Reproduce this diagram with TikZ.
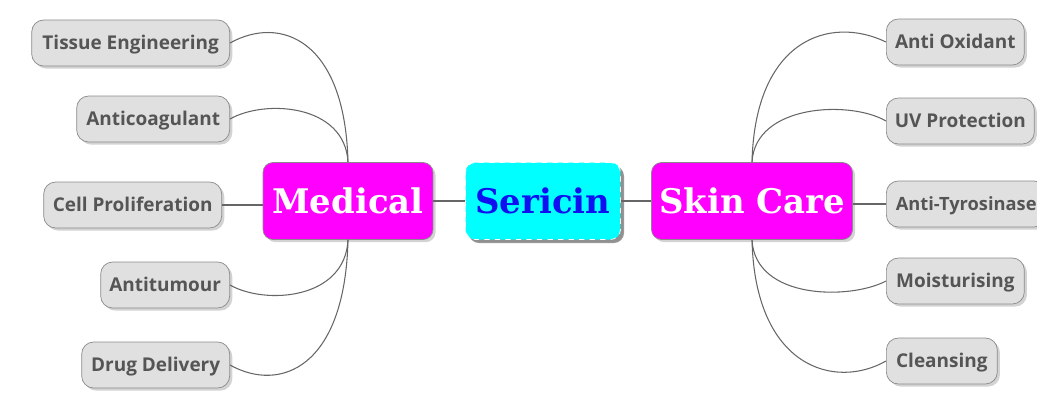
\documentclass[tikz,border=0pt]{standalone}
\usepackage{fontspec}
\usetikzlibrary{shadows}
\newfontfamily\leaffont{Open Sans}
\newfontfamily\hubfont{DejaVu Serif}
\definecolor{leafgray}{HTML}{E0E0E0}
\definecolor{leafline}{HTML}{8A8A8A}
\definecolor{leaftext}{HTML}{555555}
\definecolor{linkgray}{HTML}{666666}
\definecolor{hubmagenta}{HTML}{FF00FF}
\definecolor{hubcyan}{HTML}{00FFFF}
\definecolor{hubblue}{HTML}{1010F0}

\begin{document}
\begin{tikzpicture}[x=0.02cm,y=-0.02cm,
  leaf/.style={draw=leafline,fill=leafgray,rounded corners=0.24cm,minimum height=0.92cm,
    inner sep=0pt,text=leaftext,font=\leaffont\bfseries\fontsize{10.8}{12}\selectfont,
    text height=7.7pt,text depth=0pt,
    drop shadow={shadow xshift=1.5pt,shadow yshift=-1.5pt,opacity=0.35}},
  hub/.style={draw=leafline,fill=hubmagenta,rounded corners=0.2cm,minimum height=1.54cm,
    inner sep=0pt,text=white,font=\hubfont\bfseries\fontsize{19.3}{22}\selectfont,
    text height=14pt,text depth=0pt,
    drop shadow={shadow xshift=1.5pt,shadow yshift=-1.5pt,opacity=0.35}},
  link/.style={draw=linkgray,line width=0.6pt}]
\useasboundingbox (0,0) rectangle (1037,407);

% centre
\node[hub,fill=hubcyan,draw=white,dashed,text=hubblue,minimum width=3.1cm,
  drop shadow={shadow xshift=2pt,shadow yshift=-2pt,opacity=0.8}] (ser) at (543,201) {Sericin};
\node[hub,minimum width=3.4cm] (med) at (348,201) {Medical};
\node[hub,minimum width=4.02cm] (skin) at (752,201) {Skin Care};

% medical side
\node[leaf,minimum width=3.96cm,anchor=east] (te) at (230,43) {Tissue Engineering};
\node[leaf,minimum width=3.06cm,anchor=east] (ac) at (230,119) {Anticoagulant};
\node[leaf,minimum width=3.56cm,anchor=east] (cp) at (222,205) {Cell Proliferation};
\node[leaf,minimum width=2.58cm,anchor=east] (at) at (230,285) {Antitumour};
\node[leaf,minimum width=2.96cm,anchor=east] (dd) at (230,365) {Drug Delivery};

% skin care side
\node[leaf,minimum width=2.76cm,anchor=west] (ao) at (886,42) {Anti Oxidant};
\node[leaf,minimum width=2.96cm,anchor=west] (uv) at (886,121) {UV Protection};
\node[leaf,inner xsep=0.19cm,anchor=west,font=\leaffont\bfseries\fontsize{10.4}{12}\selectfont] (ty) at (886,204) {Anti-Tyrosinase};
\node[leaf,minimum width=2.76cm,anchor=west] (mo) at (886,281) {Moisturising};
\node[leaf,minimum width=2.22cm,anchor=west] (cl) at (886,361) {Cleansing};

\draw[link] (med.east) -- (ser.west);
\draw[link] (ser.east) -- (skin.west);
\draw[link] (cp.east) -- (cp.east -| med.west);
\draw[link] (skin.east |- ty.west) -- (ty.west);

\draw[link] (te.east) .. controls +(50,-28) and +(-3,-123) .. (med.north);
\draw[link] (ac.east) .. controls +(35,-20) and +(-3,-58) .. (med.north);
\draw[link] (at.east) .. controls +(35,20) and +(-3,60) .. (med.south);
\draw[link] (dd.east) .. controls +(50,28) and +(-3,128) .. (med.south);

\draw[link] (ao.west) .. controls +(-56,-27) and +(3,-123) .. (skin.north);
\draw[link] (uv.west) .. controls +(-36,-21) and +(3,-58) .. (skin.north);
\draw[link] (mo.west) .. controls +(-36,19) and +(3,60) .. (skin.south);
\draw[link] (cl.west) .. controls +(-51,29) and +(3,128) .. (skin.south);

\end{tikzpicture}
\end{document}
